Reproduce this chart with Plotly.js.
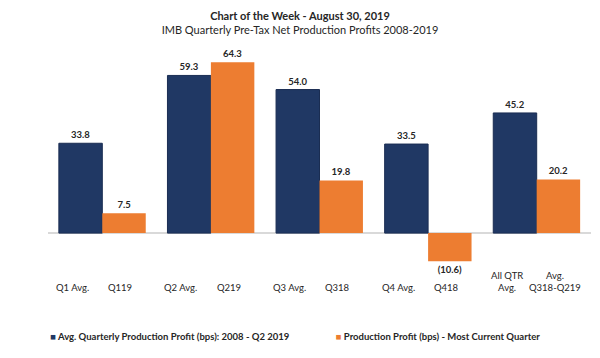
<!DOCTYPE html>
<html>
<head>
<meta charset="utf-8">
<script src="https://cdn.plot.ly/plotly-3.0.1.min.js"></script>
<style>html,body{margin:0;padding:0;background:#fff;}#chart{width:600px;height:358px;}</style>
</head>
<body>
<div id="chart"></div>
<script>
var groups = ["Q1", "Q2", "Q3", "Q4", "All"];
var avgValues = [33.8, 59.3, 54.0, 33.5, 45.2];
var currentValues = [7.5, 64.3, 19.8, -10.6, 20.2];
var avgLabels = ["Q1 Avg.", "Q2 Avg.", "Q3 Avg.", "Q4 Avg.", "All QTR<br>Avg."];
var currentLabels = ["Q119", "Q219", "Q318", "Q418", "Avg.<br>Q318-Q219"];
var seriesNames = ["Avg. Quarterly Production Profit (bps): 2008 - Q2 2019", "Production Profit (bps) - Most Current Quarter"];

function fmt(v){ return v < 0 ? "(" + Math.abs(v).toFixed(1) + ")" : v.toFixed(1); }

var FONT = "Lato, 'Open Sans', sans-serif";
var navy = "#203864", orange = "#ed7d31";

function legendName(name, color){
  return '<span style="color:' + color + '">■</span> ' + name;
}

var traces = [
  {type:"bar", name:seriesNames[0], x:groups, y:avgValues, text:avgValues.map(fmt),
   textposition:"outside", cliponaxis:false, showlegend:false,
   textfont:{family:FONT, size:9.5, color:"#262626", weight:"bold"},
   marker:{color:navy, line:{color:"#1a2d52", width:1}}, hoverinfo:"skip"},
  {type:"bar", name:seriesNames[1], x:groups, y:currentValues, text:currentValues.map(fmt),
   textposition:"outside", cliponaxis:false, showlegend:false,
   textfont:{family:FONT, size:9.5, color:"#262626", weight:"bold"},
   marker:{color:orange}, hoverinfo:"skip"},
  {type:"scatter", mode:"markers", name:legendName(seriesNames[0], navy), x:[null], y:[null],
   marker:{symbol:"square", size:6, color:"rgba(0,0,0,0)", line:{width:0}}, legend:"legend"},
  {type:"scatter", mode:"markers", name:legendName(seriesNames[1], orange), x:[null], y:[null],
   marker:{symbol:"square", size:6, color:"rgba(0,0,0,0)", line:{width:0}}, legend:"legend2"}
];

var annotations = [];
groups.forEach(function(g, i){
  annotations.push({xref:"x", yref:"paper", x:g, y:-0.097, yanchor:"bottom", xanchor:"center",
    xshift:-30, text:avgLabels[i], showarrow:false, font:{family:FONT, size:9.5, color:"#262626"}});
  annotations.push({xref:"x", yref:"paper", x:g, y:-0.097, yanchor:"bottom", xanchor:"center",
    xshift:18, text:currentLabels[i], showarrow:false, font:{family:FONT, size:9.5, color:"#262626"}});
});

var legendFont = {family:FONT, size:9.5, color:"#262626", weight:"bold"};

var layout = {
  width:600, height:358,
  margin:{l:48, r:9, t:47, b:85},
  paper_bgcolor:"#fff", plot_bgcolor:"#fff",
  font:{family:FONT, color:"#262626"},
  title:{text:"<b>Chart of the Week - August 30, 2019</b><br>IMB Quarterly Pre-Tax Net Production Profits 2008-2019",
    font:{family:FONT, size:11, color:"#262626"}, x:0.5, xanchor:"center", y:0.945, yanchor:"top", yref:"container"},
  barmode:"group", bargap:0.2, bargroupgap:0,
  xaxis:{showticklabels:false, showgrid:false, zeroline:false, showline:false, ticks:""},
  yaxis:{range:[-15,70], showticklabels:false, showgrid:false, zeroline:true, zerolinecolor:"#d9d9d9", zerolinewidth:1.5, ticks:""},
  showlegend:true,
  legend:{orientation:"h", xref:"container", x:0.017, xanchor:"left", yref:"container", y:0.0615, yanchor:"middle",
    font:legendFont, itemwidth:30, bgcolor:"rgba(0,0,0,0)"},
  legend2:{orientation:"h", xref:"container", x:0.493, xanchor:"left", yref:"container", y:0.0615, yanchor:"middle",
    font:legendFont, itemwidth:30, bgcolor:"rgba(0,0,0,0)"},
  annotations:annotations
};

Plotly.newPlot("chart", traces, layout, {staticPlot:true, displayModeBar:false});
</script>
</body>
</html>
